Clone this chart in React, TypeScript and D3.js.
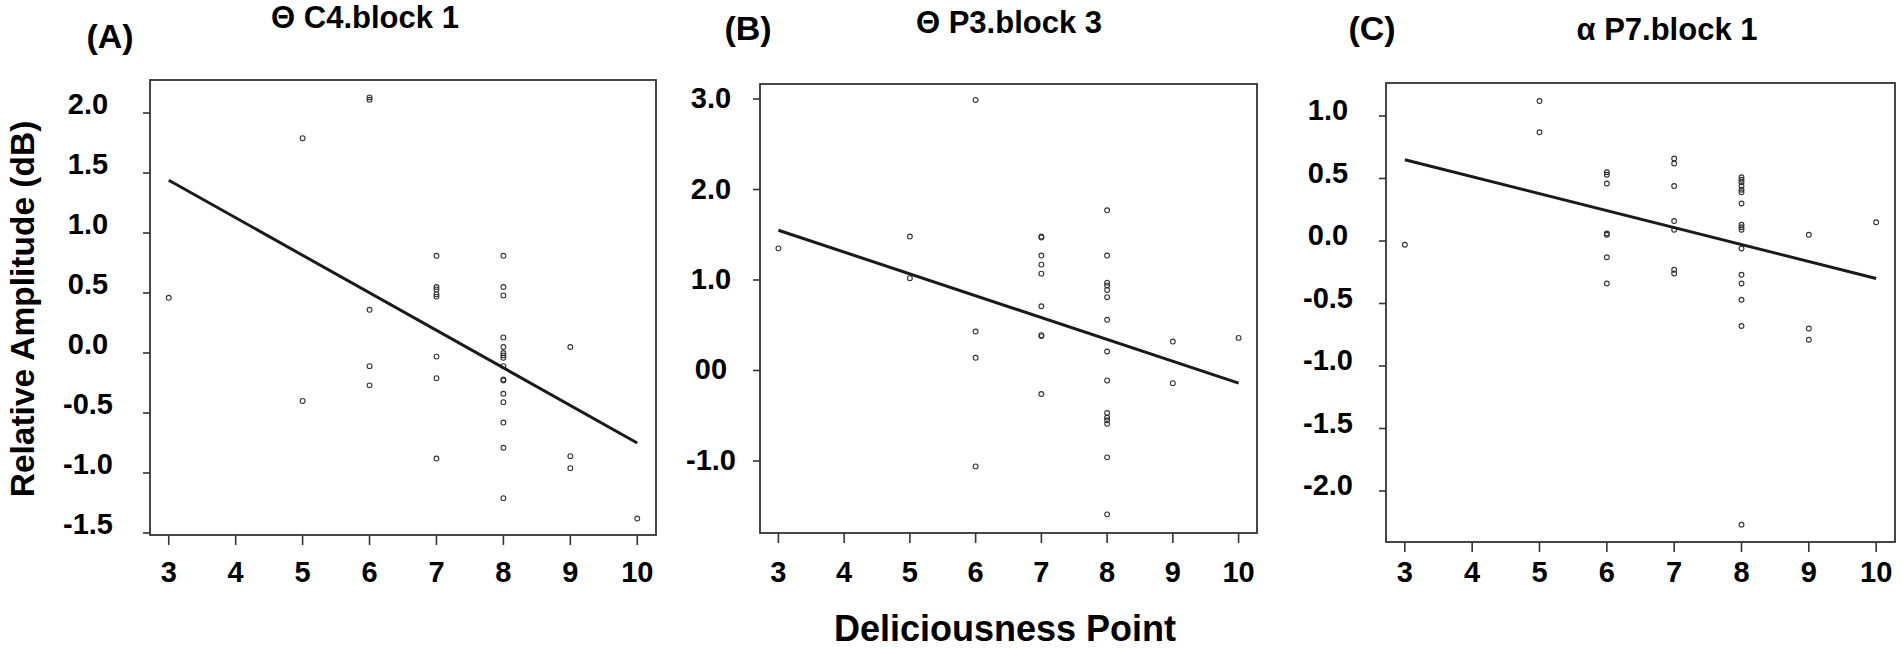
import * as d3 from "d3";

// deliciousness score (x) and relative amplitude (y) per trial
const xA = [3, 5, 5, 6, 6, 6, 6, 6, 7, 7, 7, 7, 7, 7, 7, 7, 8, 8, 8, 8, 8, 8, 8, 8, 8, 8, 8, 8, 8, 8, 8, 8, 9, 9, 9, 10];
const yA = [0.46, 1.79, -0.4, 2.13, 2.11, 0.36, -0.11, -0.27, 0.81, 0.55, 0.53, 0.49, 0.47, -0.03, -0.21, -0.88, 0.81, 0.55, 0.48, 0.13, 0.05, 0.0, -0.02, -0.04, -0.11, -0.22, -0.23, -0.34, -0.41, -0.58, -0.79, -1.21, 0.05, -0.86, -0.96, -1.38];

const xB = [3, 5, 5, 6, 6, 6, 6, 7, 7, 7, 7, 7, 7, 7, 7, 7, 8, 8, 8, 8, 8, 8, 8, 8, 8, 8, 8, 8, 8, 8, 8, 9, 9, 10];
const yB = [1.35, 1.48, 1.02, 2.99, 0.43, 0.14, -1.06, 1.48, 1.47, 1.27, 1.17, 1.07, 0.71, 0.39, 0.38, -0.26, 1.77, 1.27, 0.97, 0.94, 0.89, 0.81, 0.56, 0.21, -0.11, -0.47, -0.52, -0.55, -0.59, -0.96, -1.59, 0.32, -0.14, 0.36];

const xC = [3, 5, 5, 6, 6, 6, 6, 6, 6, 6, 7, 7, 7, 7, 7, 7, 7, 8, 8, 8, 8, 8, 8, 8, 8, 8, 8, 8, 8, 8, 8, 8, 8, 9, 9, 9, 10];
const yC = [-0.03, 1.12, 0.87, 0.55, 0.53, 0.46, 0.06, 0.05, -0.13, -0.34, 0.66, 0.62, 0.44, 0.16, 0.09, -0.23, -0.26, 0.51, 0.49, 0.47, 0.44, 0.41, 0.39, 0.3, 0.13, 0.11, 0.09, -0.06, -0.27, -0.34, -0.47, -0.68, -2.27, 0.05, -0.7, -0.79, 0.15];

// fitted line: value at x = 3 and x = 10
const fitX = [3, 10];
const fitA = [1.44, -0.75];
const fitB = [1.55, -0.14];
const fitC = [0.65, -0.3];

const xTicks = [3, 4, 5, 6, 7, 8, 9, 10];
const yTicksA = [2.0, 1.5, 1.0, 0.5, 0.0, -0.5, -1.0, -1.5];
const yLabelsA = ["2.0", "1.5", "1.0", "0.5", "0.0", "-0.5", "-1.0", "-1.5"];
const yTicksB = [3, 2, 1, 0, -1];
const yLabelsB = ["3.0", "2.0", "1.0", "00", "-1.0"];
const yTicksC = [1.0, 0.5, 0.0, -0.5, -1.0, -1.5, -2.0];
const yLabelsC = ["1.0", "0.5", "0.0", "-0.5", "-1.0", "-1.5", "-2.0"];

const titles = ["Θ C4.block 1", "Θ P3.block 3", "α P7.block 1"];
const tags = ["(A)", "(B)", "(C)"];

const W = 1902;
const H = 649;
const FONT = "Liberation Sans, Arial, Helvetica, sans-serif";
const INK = "#1a1a1a";

const panels = [
  {
    xs: xA, ys: yA, fit: fitA, ticks: yTicksA, labels: yLabelsA,
    box: { l: 150, r: 656, t: 80, b: 535 }, yDomain: [-1.517, 2.275],
    labelX: 88, labelDy: 1, title: { x: 365, y: 28 }, tag: { x: 110, y: 48 },
  },
  {
    xs: xB, ys: yB, fit: fitB, ticks: yTicksB, labels: yLabelsB,
    box: { l: 760, r: 1257, t: 84, b: 533 }, yDomain: [-1.796, 3.166],
    labelX: 711, labelDy: 9, title: { x: 1009, y: 33 }, tag: { x: 748, y: 40 },
  },
  {
    xs: xC, ys: yC, fit: fitC, ticks: yTicksC, labels: yLabelsC,
    box: { l: 1386, r: 1895, t: 83, b: 542 }, yDomain: [-2.408, 1.264],
    labelX: 1328, labelDy: 4, title: { x: 1667, y: 40 }, tag: { x: 1372, y: 40 },
  },
];

function Panel({ p, i }: { p: (typeof panels)[number]; i: number }) {
  const { box } = p;
  const x = d3.scaleLinear().domain([2.72, 10.28]).range([box.l, box.r]);
  const y = d3.scaleLinear().domain(p.yDomain).range([box.b, box.t]);
  const line = d3.line<number>().x((d) => x(d)).y((_, k) => y(p.fit[k]));

  return (
    <g>
      <text x={p.tag.x} y={p.tag.y} textAnchor="middle" fontSize={34} fontWeight="bold" fill="#000">
        {tags[i]}
      </text>
      <text x={p.title.x} y={p.title.y} textAnchor="middle" fontSize={31} fontWeight="bold" fill="#000">
        {titles[i]}
      </text>

      <rect x={box.l} y={box.t} width={box.r - box.l} height={box.b - box.t} fill="none" stroke="#333" strokeWidth={1.8} />

      {xTicks.map((t) => (
        <g key={`x${t}`}>
          <line x1={x(t)} x2={x(t)} y1={box.b} y2={box.b + 10} stroke="#333" strokeWidth={1.6} />
          <text x={x(t)} y={582} textAnchor="middle" fontSize={29} fontWeight="bold" fill="#000">
            {t}
          </text>
        </g>
      ))}

      {p.ticks.map((t, k) => (
        <g key={`y${t}`}>
          <line x1={box.l - 7} x2={box.l} y1={y(t)} y2={y(t)} stroke="#333" strokeWidth={1.6} />
          <text x={p.labelX} y={y(t) + p.labelDy} textAnchor="middle" fontSize={29} fontWeight="bold" fill="#000">
            {p.labels[k]}
          </text>
        </g>
      ))}

      {p.xs.map((d, k) => (
        <circle key={k} cx={x(d)} cy={y(p.ys[k])} r={2.4} fill="none" stroke="#333" strokeWidth={1.1} />
      ))}

      <path d={line(fitX) ?? ""} fill="none" stroke={INK} strokeWidth={3} />
    </g>
  );
}

export default function App() {
  return (
    <div style={{ position: "absolute", left: 0, top: 0 }}>
      <svg width={W} height={H} style={{ display: "block", background: "#fff", fontFamily: FONT }}>
        {panels.map((p, i) => (
          <Panel key={i} p={p} i={i} />
        ))}
        <text x={1005} y={641} textAnchor="middle" fontSize={36} fontWeight="bold" fill="#000">
          Deliciousness Point
        </text>
        <text transform="translate(34,309) rotate(-90)" textAnchor="middle" fontSize={33.5} fontWeight="bold" fill="#000">
          Relative Amplitude (dB)
        </text>
      </svg>
    </div>
  );
}
